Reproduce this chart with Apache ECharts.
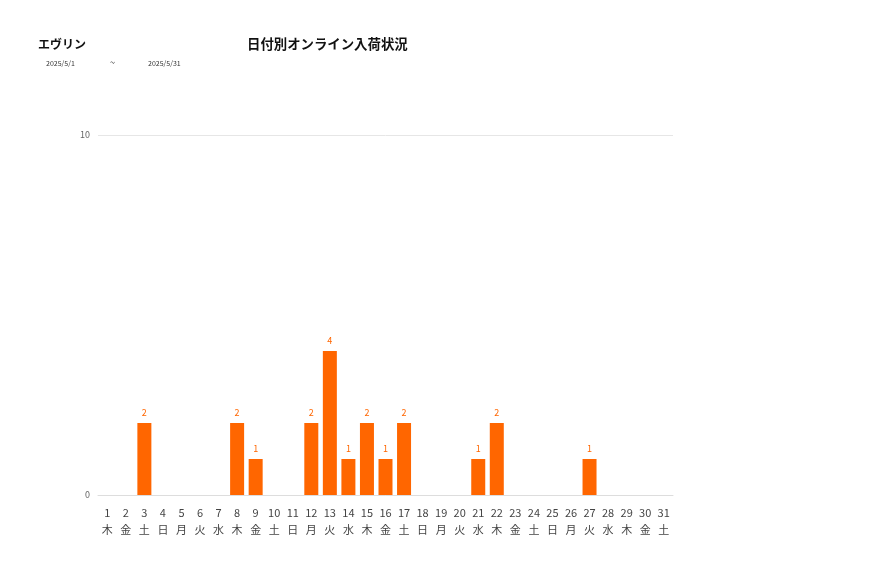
<!DOCTYPE html>
<html>
<head>
<meta charset="utf-8">
<script src="https://cdn.jsdelivr.net/npm/echarts@6/dist/echarts.min.js"></script>
<style>
  html, body { margin: 0; padding: 0; background: #fff; }
  #main { width: 877px; height: 578px; }
</style>
</head>
<body>
<div id="main"></div>
<script>
var days = ['1','2','3','4','5','6','7','8','9','10','11','12','13','14','15','16','17','18','19','20','21','22','23','24','25','26','27','28','29','30','31'];
var weekdays = ['木','金','土','日','月','火','水','木','金','土','日','月','火','水','木','金','土','日','月','火','水','木','金','土','日','月','火','水','木','金','土'];
var counts = [0,0,2,0,0,0,0,2,1,0,0,2,4,1,2,1,2,0,0,0,1,2,0,0,0,0,1,0,0,0,0];
var yTicks = [0, 10];

var chart = echarts.init(document.getElementById('main'));

// 0件の日はラベルを出さない
var barData = counts.map(function (v) {
    return v > 0 ? v : { value: 0, label: { show: false } };
});

var option = {
    animation: false,
    textStyle: { fontFamily: '"Noto Sans CJK JP", "Noto Sans", sans-serif' },
    title: [
        {
            text: 'エヴリン',
            left: 38, top: 38, padding: 0,
            textStyle: { fontSize: 12, fontWeight: 'bold', color: '#111' }
        },
        {
            text: '日付別オンライン入荷状況',
            left: 247, top: 37, padding: 0,
            textStyle: { fontSize: 13.4, fontWeight: 'bold', color: '#111' }
        },
        { text: '2025/5/1', left: 46, top: 60, padding: 0, textStyle: { fontSize: 7, fontWeight: 'normal', color: '#333' } },
        { text: '~', left: 110, top: 58, padding: 0, textStyle: { fontSize: 9, fontWeight: 'normal', color: '#333' } },
        { text: '2025/5/31', left: 148, top: 60, padding: 0, textStyle: { fontSize: 7, fontWeight: 'normal', color: '#333' } }
    ],
    grid: { left: 98, right: 204, top: 135, bottom: 83 },
    xAxis: {
        type: 'category',
        data: days.map(function (d, i) { return d + '\n' + weekdays[i]; }),
        axisTick: { show: false },
        axisLine: { lineStyle: { color: '#ddd' } },
        axisLabel: { interval: 0, color: '#444', fontSize: 11, lineHeight: 17, margin: 9 }
    },
    yAxis: {
        type: 'value',
        min: yTicks[0],
        max: yTicks[1],
        interval: 10,
        axisLabel: { color: '#666', fontSize: 9, margin: 8 },
        splitLine: { lineStyle: { color: '#e6e6e6' } }
    },
    series: [{
        type: 'bar',
        data: barData,
        barWidth: 14,
        itemStyle: { color: '#ff6600' },
        label: { show: true, position: 'top', color: '#ff6600', fontSize: 9, distance: 6 }
    }]
};

chart.setOption(option);
</script>
</body>
</html>
